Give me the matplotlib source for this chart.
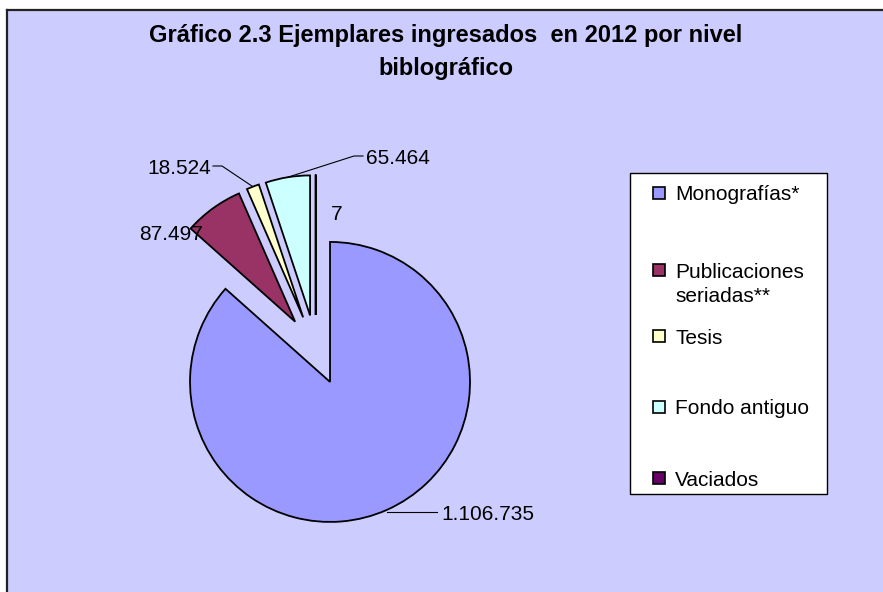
import numpy as np
import matplotlib
matplotlib.use("Agg")
import matplotlib.pyplot as plt
from matplotlib.patches import Rectangle

plt.rcParams['font.family'] = ['Liberation Sans', 'DejaVu Sans']

# Data

categories = ['Monografías*', 'Publicaciones\nseriadas**', 'Tesis', 'Fondo antiguo', 'Vaciados']
values = [1106735, 87497, 18524, 65464, 7]
colors = ['#9999FF', '#993366', '#FFFFCC', '#CCFFFF', '#660066']

title_lines = ['Gráfico 2.3 Ejemplares ingresados  en 2012 por nivel', 'biblográfico']

# Layout (pixels, y down)

W, H = 883, 592
bg = '#CCCCFF'
pie_center = (315.7, 350.0)
pie_radius = 140.0
explode_px = 35.0

# label placement per slice: (x, y_baseline, ha, leader kind)
label_pos = [
    (441, 519.5, 'left', 'horiz'),
    (203, 239.5, 'right', None),
    (211, 173.5, 'right', 'right'),
    (366, 163.5, 'left', 'left'),
    (337, 219.5, 'center', None),
]

fig = plt.figure(figsize=(W / 100, H / 100), dpi=100)
fig.patch.set_facecolor('white')
ax = fig.add_axes([0, 0, 1, 1])

# Chart area
ax.add_patch(Rectangle((7, 10), W, H, facecolor=bg, edgecolor='none', zorder=0))
ax.plot([7, 7], [10, H + 5], color='#222222', lw=1.6, zorder=1)
ax.plot([7, W + 5], [10, 10], color='#222222', lw=1.6, zorder=1)

# y axis is inverted (pixel coords), so startangle=-90 + counterclock
# gives a clockwise pie starting at 12 o'clock on screen
wedges, _ = ax.pie(
    values,
    colors=colors,
    explode=[explode_px] * len(values),
    radius=pie_radius,
    center=pie_center,
    startangle=-90,
    counterclock=True,
    wedgeprops=dict(edgecolor='black', linewidth=1.3),
    frame=True,
)

ax.set_xlim(0, W)
ax.set_ylim(H, 0)
ax.set_aspect('auto')
ax.axis('off')

# Title
ax.text(446, 42, title_lines[0], ha='center', va='baseline', fontsize=17, fontweight='bold')
ax.text(446, 75, title_lines[1], ha='center', va='baseline', fontsize=17, fontweight='bold')

# Data labels with leader lines
for w, v, (lx, ly, ha, kind) in zip(wedges, values, label_pos):
    txt = f"{v:,}".replace(",", ".")
    ax.text(lx, ly, txt, ha=ha, va='baseline', fontsize=15)
    if kind is None:
        continue
    tm = np.deg2rad((w.theta1 + w.theta2) / 2)
    ex = w.center[0] + w.r * np.cos(tm)
    ey = w.center[1] + w.r * np.sin(tm)
    yc = ly - 7.5
    if kind == 'horiz':
        ax.plot([ex, lx - 4], [ey + 2, ey + 2], color='black', lw=0.8)
    elif kind == 'right':
        ax.plot([lx + 2, lx + 11, ex], [yc, yc, ey], color='black', lw=0.8)
    elif kind == 'left':
        ax.plot([lx - 3, lx - 12, ex], [yc, yc, ey], color='black', lw=0.8)

# Legend (drawn by hand to keep Excel's uneven spacing)
ax.add_patch(Rectangle((630, 173), 197, 321, facecolor='white', edgecolor='black', lw=1.0, zorder=3))
legend_y = [193, 270, 336, 407, 478]
for name, c, yc in zip(categories, colors, legend_y):
    ax.add_patch(Rectangle((653, yc - 6), 12, 12, facecolor=c, edgecolor='black', lw=1.2, zorder=4))
    for i, line in enumerate(name.split('\n')):
        ax.text(675, yc + 7.5 + i * 25, line, ha='left', va='baseline', fontsize=15, zorder=5)

fig.savefig('out.png', dpi=100, facecolor='white')
